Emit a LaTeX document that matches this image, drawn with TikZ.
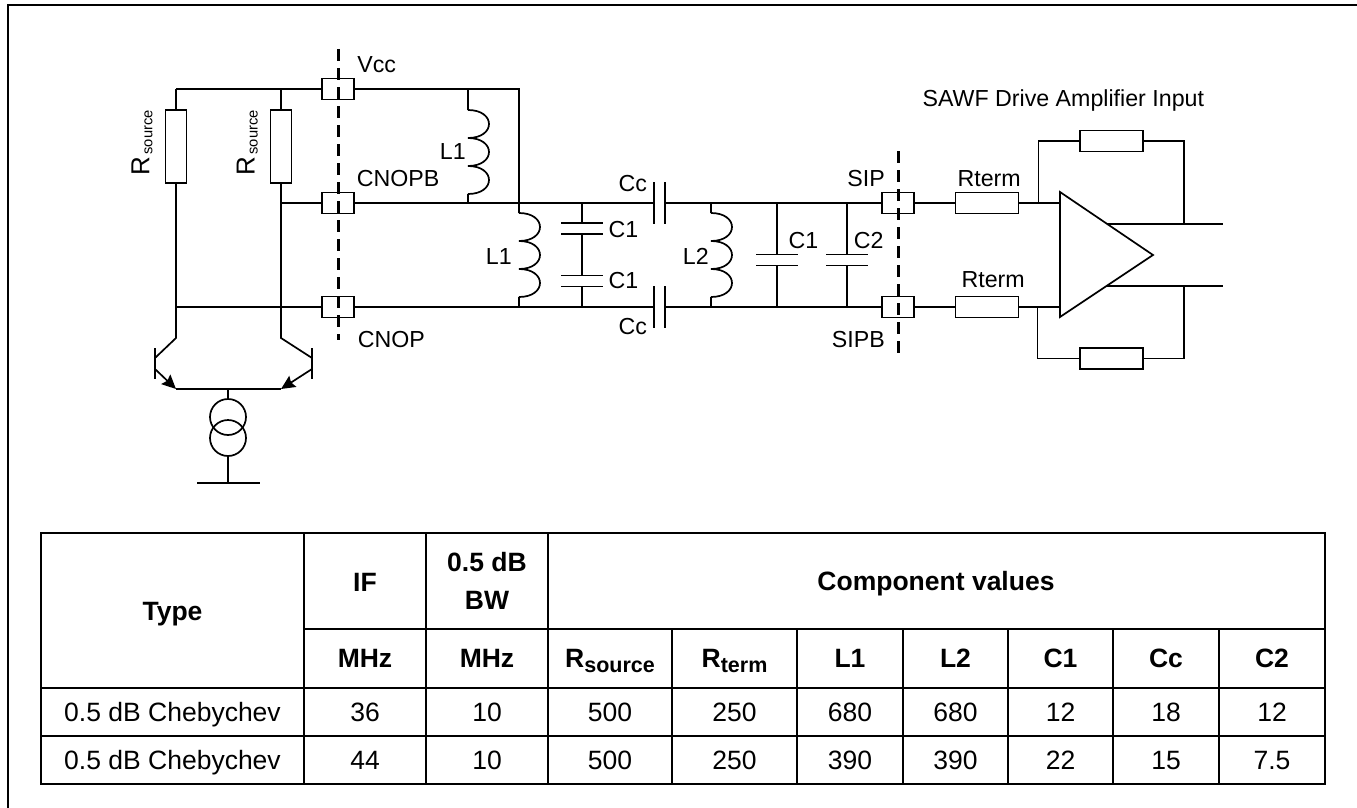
\documentclass[tikz,border=0pt]{standalone}
\usepackage{fontspec}
\setmainfont{Liberation Sans}
\usetikzlibrary{arrows.meta}
\tikzset{
  lbl/.style={inner sep=0, anchor=base west, font=\fontsize{23.2}{27}\selectfont},
  lblr/.style={lbl, anchor=base east},
  lblrot/.style={inner sep=0, anchor=base west, rotate=90, font=\fontsize{26}{30}\selectfont},
  cell/.style={inner sep=0, anchor=base, font=\fontsize{26.5}{31}\selectfont},
  headcell/.style={cell, font=\fontsize{26.5}{31}\selectfont\bfseries},
  pad/.style={draw, minimum width=32, minimum height=21, inner sep=0, outer sep=0},
  resv/.style={draw, minimum width=21, minimum height=73, inner sep=0, outer sep=0},
  resh/.style={draw, minimum width=63, minimum height=21, inner sep=0, outer sep=0},
  bound/.style={line width=3pt, dash pattern=on 12pt off 7pt},
  frameline/.style={line width=2pt},
  coil/.pic={
    \draw (0,0) .. controls (28,0) and (28,28) .. (0,28)
      .. controls (28,28) and (28,56) .. (0,56)
      .. controls (28,56) and (28,84) .. (0,84);
    \coordinate (-top) at (0,0);
    \coordinate (-bot) at (0,84);
  },
  capv/.pic={
    \draw (-21,-5.5) -- (21,-5.5);
    \draw (-21,5.5) -- (21,5.5);
    \coordinate (-top) at (0,-5.5);
    \coordinate (-bot) at (0,5.5);
  },
  caph/.pic={
    \draw (-5.5,-21) -- (-5.5,21);
    \draw (5.5,-21) -- (5.5,21);
    \coordinate (-lft) at (-5.5,0);
    \coordinate (-rgt) at (5.5,0);
  }
}
\begin{document}
\begin{tikzpicture}[x=1pt, y=-1pt, line width=1.7pt]
    \useasboundingbox (0,0) rectangle (1357,808);

    % Outer frame, open to the right and below
    \coordinate (FA) at (7.5,808);
    \coordinate (FB) at (7.5,5);
    \coordinate (FC) at (1357,5);
    \draw[frameline] (FA) -- (FB) -- (FC);

    % Boundary pads
    \node[pad] (padVcc) at (338,89) {};
    \node[pad] (padCnopb) at (338,203) {};
    \node[pad] (padCnop) at (338,307) {};
    \node[pad] (padSip) at (898,203) {};
    \node[pad] (padSipb) at (898,307) {};

    % Chip boundaries
    \coordinate (BA) at (338.7,49);
    \coordinate (BB) at (338.7,340);
    \coordinate (BC) at (898,151);
    \coordinate (BD) at (898,355);
    \draw[bound] (BA) -- (BB);
    \draw[bound] (BC) -- (BD);

    % Source resistors
    \node[resv] (rsa) at (176,146.5) {};
    \node[resv] (rsb) at (281,146.5) {};
    \coordinate (TL) at (176,89);
    \coordinate (TM) at (281,89);
    \coordinate (TN) at (468,89);
    \coordinate (TR) at (519,89);
    \coordinate (ML) at (281,203);
    \coordinate (MN) at (468,203);
    \coordinate (MR) at (519,203);
    \coordinate (LL) at (176,307);
    \coordinate (LM) at (281,307);
    \coordinate (LR) at (519,307);
    \draw (TL) -- (padVcc.west);
    \draw (padVcc.east) -- (TR) -- (MR);
    \draw (TL) -- (rsa.north);
    \draw (TM) -- (rsb.north);
    \draw (rsa.south) -- (LL);
    \draw (rsb.south) -- (LM);
    \draw (ML) -- (padCnopb.west);
    \draw (LL) -- (padCnop.west);

    % Transistor pair
    \coordinate (QAc) at (176,338);
    \coordinate (QAb) at (155,358);
    \coordinate (QAt) at (155,348);
    \coordinate (QAd) at (155,379);
    \coordinate (QAe) at (155,369);
    \coordinate (QAo) at (176,389);
    \coordinate (QBc) at (281,338);
    \coordinate (QBb) at (312,358);
    \coordinate (QBt) at (312,348);
    \coordinate (QBd) at (312,379);
    \coordinate (QBe) at (312,369);
    \coordinate (QBo) at (281,389);
    \coordinate (QM) at (228,389);
    \draw (LL) -- (QAc) -- (QAb);
    \draw (LM) -- (QBc) -- (QBb);
    \draw (QAt) -- (QAd);
    \draw (QBt) -- (QBd);
    \draw[-{Stealth[length=14pt,width=13pt,inset=2pt]}] (QAe) -- (QAo);
    \draw[-{Stealth[length=14pt,width=13pt,inset=2pt]}] (QBe) -- (QBo);
    \draw (QAo) -- (QBo);

    % Current source and ground
    \node[draw, circle, minimum size=36, inner sep=0, outer sep=0] (srcA) at (228,417) {};
    \node[draw, circle, minimum size=36, inner sep=0, outer sep=0] (srcB) at (228,438) {};
    \coordinate (GM) at (228,483);
    \coordinate (GL) at (197,483);
    \coordinate (GR) at (260,483);
    \draw (QM) -- (srcA.north);
    \draw (srcB.south) -- (GM);
    \draw (GL) -- (GR);

    % Filter
    \pic (loa) at (468,110) {coil};
    \pic (lob) at (519,213) {coil};
    \pic (ltw) at (711,213) {coil};
    \pic (csa) at (582,228.5) {capv};
    \pic (csb) at (582,281) {capv};
    \pic (cra) at (777,260) {capv};
    \pic (crb) at (847,260) {capv};
    \pic (cca) at (659.5,203) {caph};
    \pic (ccb) at (659.5,307) {caph};
    \coordinate (SAu) at (582,203);
    \coordinate (SAd) at (582,307);
    \coordinate (LTu) at (711,203);
    \coordinate (LTd) at (711,307);
    \coordinate (CAu) at (777,203);
    \coordinate (CAd) at (777,307);
    \coordinate (CBu) at (847,203);
    \coordinate (CBd) at (847,307);
    \draw (TN) -- (loa-top);
    \draw (loa-bot) -- (MN);
    \draw (padCnopb.east) -- (cca-lft);
    \draw (padCnop.east) -- (ccb-lft);
    \draw (cca-rgt) -- (padSip.west);
    \draw (ccb-rgt) -- (padSipb.west);
    \draw (MR) -- (lob-top);
    \draw (lob-bot) -- (LR);
    \draw (SAu) -- (csa-top);
    \draw (csa-bot) -- (csb-top);
    \draw (csb-bot) -- (SAd);
    \draw (LTu) -- (ltw-top);
    \draw (ltw-bot) -- (LTd);
    \draw (CAu) -- (cra-top);
    \draw (cra-bot) -- (CAd);
    \draw (CBu) -- (crb-top);
    \draw (crb-bot) -- (CBd);

    % Amplifier
    \node[resh] (rta) at (987,203) {};
    \node[resh] (rtb) at (987,307) {};
    \node[resh] (rfa) at (1111.5,141) {};
    \node[resh] (rfb) at (1111.5,358.5) {};
    \coordinate (AA) at (1060,192);
    \coordinate (AB) at (1060,317);
    \coordinate (AC) at (1153,255);
    \coordinate (AU) at (1060,203);
    \coordinate (AD) at (1060,307);
    \coordinate (FUa) at (1038.5,203);
    \coordinate (FUb) at (1038.5,141);
    \coordinate (FUc) at (1184,141);
    \coordinate (FUd) at (1184,224);
    \coordinate (FDa) at (1037.5,307);
    \coordinate (FDb) at (1037.5,358.5);
    \coordinate (FDc) at (1184,358.5);
    \coordinate (FDd) at (1184,286);
    \coordinate (OUa) at (1107,224);
    \coordinate (OUb) at (1223,224);
    \coordinate (ODa) at (1107,286);
    \coordinate (ODb) at (1223,286);
    \draw (AA) -- (AB) -- (AC) -- cycle;
    \draw (padSip.east) -- (rta.west);
    \draw (padSipb.east) -- (rtb.west);
    \draw (rta.east) -- (AU);
    \draw (rtb.east) -- (AD);
    \draw (FUa) -- (FUb) -- (rfa.west);
    \draw (rfa.east) -- (FUc) -- (FUd);
    \draw (FDa) -- (FDb) -- (rfb.west);
    \draw (rfb.east) -- (FDc) -- (FDd);
    \draw[line width=1.9pt] (OUa) -- (OUb);
    \draw (ODa) -- (ODb);

    % Circuit labels
    \node[lbl] (tVcc) at (356.5,72.5) {Vcc};
    \node[lbl] (tCnopb) at (356,186.7) {CNOPB};
    \node[lbl] (tCnop) at (357,347.7) {CNOP};
    \node[lbl] (tLa) at (439,159) {L1};
    \node[lbl] (tLb) at (485,264) {L1};
    \node[lbl] (tLc) at (682,264) {L2};
    \node[lbl] (tCca) at (617.7,191.7) {Cc};
    \node[lbl] (tCcb) at (617.7,334) {Cc};
    \node[lbl] (tCsa) at (607.7,237.7) {C1};
    \node[lbl] (tCsb) at (607.7,288.3) {C1};
    \node[lbl] (tCra) at (787.7,248) {C1};
    \node[lbl] (tCrb) at (853,248) {C2};
    \node[lblr] (tSip) at (885.7,186.7) {SIP};
    \node[lblr] (tSipb) at (885.7,347) {SIPB};
    \node[lbl] (tRta) at (956.7,186.7) {Rterm};
    \node[lbl] (tRtb) at (960.7,287.7) {Rterm};
    \node[lbl] (tSawf) at (921.7,106.7) {SAWF Drive Amplifier Input};
    \node[lblrot] (tRsa) at (149.3,176) {R\hspace{2pt}{\fontsize{14.7}{17}\selectfont\raisebox{-3pt}{source}}};
    \node[lblrot] (tRsb) at (254.7,176) {R\hspace{2pt}{\fontsize{14.7}{17}\selectfont\raisebox{-3pt}{source}}};

    % Table grid
    \draw[frameline] (41,533) rectangle (1324.7,784);
    \draw[frameline] (304,629) -- (1324.7,629);
    \draw[frameline] (41,687.7) -- (1324.7,687.7);
    \draw[frameline] (41,735.7) -- (1324.7,735.7);
    \draw[frameline] (304,533) -- (304,784);
    \draw[frameline] (426,533) -- (426,784);
    \draw[frameline] (548,533) -- (548,784);
    \draw[frameline] (672,629) -- (672,784);
    \draw[frameline] (797,629) -- (797,784);
    \draw[frameline] (903,629) -- (903,784);
    \draw[frameline] (1008,629) -- (1008,784);
    \draw[frameline] (1113,629) -- (1113,784);
    \draw[frameline] (1219,629) -- (1219,784);

    % Table head
    \node[headcell] (hType) at (172.5,620) {Type};
    \node[headcell] (hIf) at (365,591) {IF};
    \node[headcell] (hBwa) at (487,571.7) {0.5 dB};
    \node[headcell] (hBwb) at (487,609) {BW};
    \node[headcell] (hVal) at (936,590) {Component values};
    \node[headcell] (uIf) at (365,667.7) {MHz};
    \node[headcell] (uBw) at (487,667.7) {MHz};
    \node[headcell] (uRs) at (610,667.7) {R\raisebox{-5pt}{\fontsize{21.5}{25}\selectfont source}};
    \node[headcell] (uRt) at (734.5,667.7) {R\raisebox{-5pt}{\fontsize{21.5}{25}\selectfont term}};
    \node[headcell] (uLa) at (850,667.7) {L1};
    \node[headcell] (uLb) at (955.5,667.7) {L2};
    \node[headcell] (uCa) at (1060.5,667.7) {C1};
    \node[headcell] (uCc) at (1166,667.7) {Cc};
    \node[headcell] (uCb) at (1272,667.7) {C2};

    % Table rows
    \node[cell] (aType) at (172.5,721.7) {0.5 dB Chebychev};
    \node[cell] (aIf) at (365,721.7) {36};
    \node[cell] (aBw) at (487,721.7) {10};
    \node[cell] (aRs) at (610,721.7) {500};
    \node[cell] (aRt) at (734.5,721.7) {250};
    \node[cell] (aLa) at (850,721.7) {680};
    \node[cell] (aLb) at (955.5,721.7) {680};
    \node[cell] (aCa) at (1060.5,721.7) {12};
    \node[cell] (aCc) at (1166,721.7) {18};
    \node[cell] (aCb) at (1272,721.7) {12};
    \node[cell] (bType) at (172.5,769.3) {0.5 dB Chebychev};
    \node[cell] (bIf) at (365,769.3) {44};
    \node[cell] (bBw) at (487,769.3) {10};
    \node[cell] (bRs) at (610,769.3) {500};
    \node[cell] (bRt) at (734.5,769.3) {250};
    \node[cell] (bLa) at (850,769.3) {390};
    \node[cell] (bLb) at (955.5,769.3) {390};
    \node[cell] (bCa) at (1060.5,769.3) {22};
    \node[cell] (bCc) at (1166,769.3) {15};
    \node[cell] (bCb) at (1272,769.3) {7.5};
\end{tikzpicture}
\end{document}
